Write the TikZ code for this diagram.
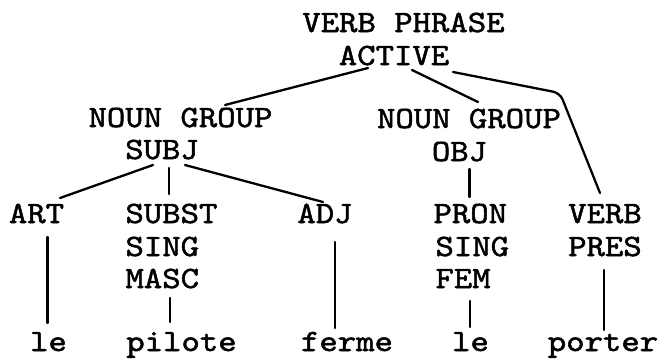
\documentclass[tikz,border=0pt]{standalone}
\usepackage{fontspec}
\newfontfamily\lblfam{lmmono10-regular.otf}[FakeStretch=1.13,FakeBold=1.6]
\newcommand{\lblfont}{\lblfam\fontsize{31pt}{33pt}\selectfont}
\begin{document}
\begin{tikzpicture}[x=1pt,y=-1pt,
  lbl/.style={inner sep=0pt, outer sep=0pt, font=\lblfont, text height=18pt, text depth=6pt},
  conn/.style={line width=2.3pt, line cap=round, line join=round}]
\useasboundingbox[fill=white] (0,0) rectangle (664,360);
% top
\node[lbl, anchor=base] (vp1) at (403.5,32) {VERB PHRASE};
\node[lbl, anchor=base] (vp2) at (394,65) {ACTIVE};
% noun groups
\node[lbl, anchor=base] (ngs1) at (180.5,127) {NOUN GROUP};
\node[lbl, anchor=base] (ngs2) at (162,159) {SUBJ};
\node[lbl, anchor=base] (ngo1) at (469,128) {NOUN GROUP};
\node[lbl, anchor=base] (ngo2) at (459.5,161) {OBJ};
% categories
\node[lbl, anchor=base] (art) at (36.5,223) {ART};
\node[lbl, anchor=base west] (subst) at (125.5,223) {SUBST};
\node[lbl, anchor=base west] (sing1) at (125.5,256) {SING};
\node[lbl, anchor=base west] (masc) at (125.5,288) {MASC};
\node[lbl, anchor=base] (adj) at (325,223) {ADJ};
\node[lbl, anchor=base west] (pron) at (433.5,223) {PRON};
\node[lbl, anchor=base west] (sing2) at (435.5,256) {SING};
\node[lbl, anchor=base west] (fem) at (435.5,288) {FEM};
\node[lbl, anchor=base] (verb) at (605,223) {VERB};
\node[lbl, anchor=base] (pres) at (605,256) {PRES};
% words
\node[lbl, anchor=base] (w1) at (48.5,351) {le};
\node[lbl, anchor=base] (w2) at (181.5,351) {pilote};
\node[lbl, anchor=base] (w3) at (347,351) {ferme};
\node[lbl, anchor=base] (w4) at (470.5,351) {le};
\node[lbl, anchor=base] (w5) at (603,351) {porter};
% connectors
\draw[conn] ([shift={(-26,3)}]vp2.base) -- ([shift={(44.5,-22)}]ngs1.base);
\draw[conn] ([shift={(18,5)}]vp2.base) -- ([shift={(9,-26)}]ngo1.base);
\draw[conn, rounded corners=7pt] ([shift={(59,7)}]vp2.base) -- ([shift={(-45,-130)}]verb.base) -- ([shift={(-5,-30)}]verb.base);
\draw[conn] ([shift={(-9,6)}]ngs2.base) -- ([shift={(23.5,-25)}]art.base);
\draw[conn] ([shift={(7,9)}]ngs2.base) -- ([shift={(43.5,-29)}]subst.base west);
\draw[conn] ([shift={(23,6)}]ngs2.base) -- ([shift={(-2,-21)}]adj.base);
\draw[conn] ([shift={(10,8)}]ngo2.base) -- ([shift={(36,-26)}]pron.base west);
\draw[conn] ([shift={(11,14)}]art.base) -- ([shift={(-1,-28)}]w1.base);
\draw[conn] ([shift={(44.5,10)}]masc.base west) -- ([shift={(-11.5,-29)}]w2.base);
\draw[conn] ([shift={(10,19)}]adj.base) -- ([shift={(-12,-23)}]w3.base);
\draw[conn] ([shift={(34.5,13)}]fem.base west) -- ([shift={(-0.5,-24)}]w4.base);
\draw[conn] ([shift={(-1,14)}]pres.base) -- ([shift={(1,-21)}]w5.base);
\end{tikzpicture}
\end{document}
